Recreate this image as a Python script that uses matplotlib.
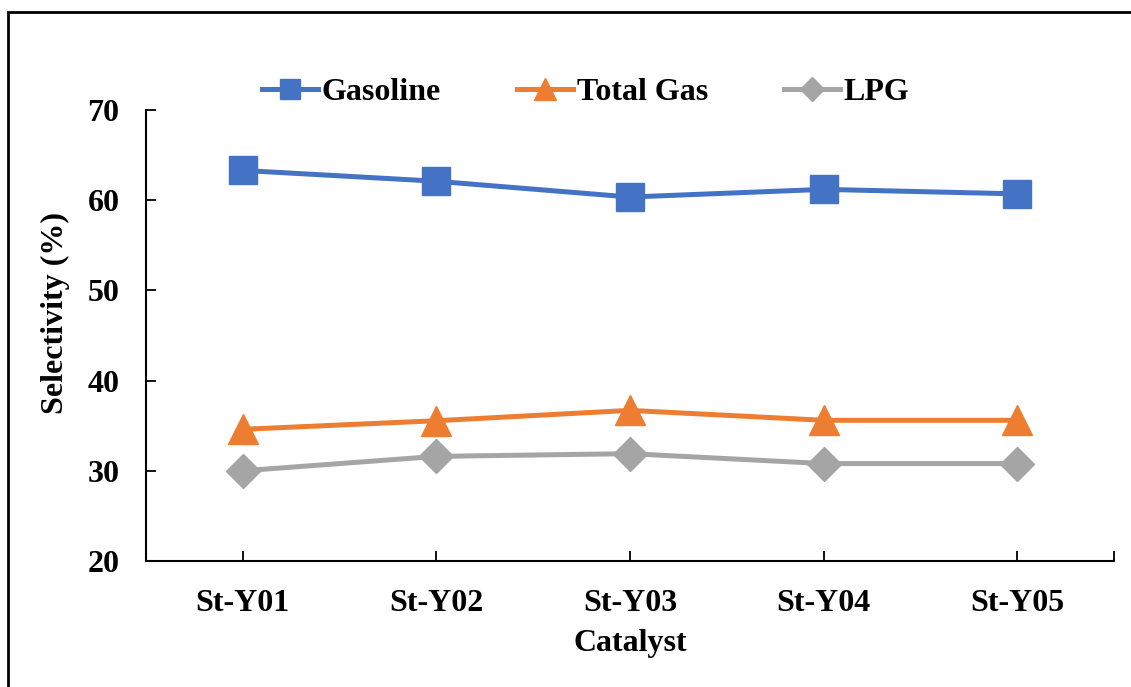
import matplotlib
matplotlib.use("Agg")
import matplotlib.pyplot as plt
from matplotlib.patches import Rectangle

# data
catalysts = ["St-Y01", "St-Y02", "St-Y03", "St-Y04", "St-Y05"]
gasoline = [63.3, 62.1, 60.35, 61.2, 60.7]
total_gas = [34.6, 35.55, 36.7, 35.6, 35.6]
lpg = [30.0, 31.6, 31.9, 30.8, 30.8]

plt.rcParams['font.family'] = ['Liberation Serif', 'DejaVu Serif']
plt.rcParams['font.weight'] = 'bold'
FS = 23

fig = plt.figure(figsize=(11.31, 6.87), dpi=100)
ax = fig.add_axes([0.129, 0.1834, 0.856, 0.6565])

x = list(range(len(catalysts)))
ax.plot(x, gasoline, color='#4472C4', lw=3.6, marker='s', ms=20, label='Gasoline')
ax.plot(x, total_gas, color='#ED7D31', lw=3.6, marker='^', ms=22, label='Total Gas')
ax.plot(x, lpg, color='#A5A5A5', lw=3.6, marker='D', ms=17, label='LPG')

ax.set_xlim(-0.5, 4.5)
ax.set_ylim(20, 70)
ax.set_yticks(range(20, 71, 10))
ax.set_xticks(x)
ax.set_xticklabels(catalysts)
ax.set_xticks([4.5], minor=True)

for s in ['top', 'right']:
    ax.spines[s].set_visible(False)
ax.spines['left'].set_linewidth(1.5)
ax.spines['bottom'].set_linewidth(1.5)

ax.tick_params(axis='both', which='both', direction='in', length=7, width=1.3, labelsize=FS)
ax.tick_params(axis='y', pad=19)
ax.tick_params(axis='x', pad=20)
for lbl in ax.get_xticklabels() + ax.get_yticklabels():
    lbl.set_fontweight('bold')

fig.text(0.049, 0.545, 'Selectivity (%)', rotation=90, ha='center', va='center',
         fontsize=FS, fontweight='bold')
fig.text(0.557, 0.064, 'Catalyst', ha='center', va='center', fontsize=FS, fontweight='bold')

leg = fig.legend(loc='center', bbox_to_anchor=(0.518, 0.866), ncol=3, frameon=False,
                 handlelength=1.75, handletextpad=0.1, columnspacing=2.4, markerscale=0.72,
                 prop={'weight': 'bold', 'size': FS})

# border around the chart area
fig.patches.append(Rectangle((8 / 1131, -0.1), 1.2, 1.1 - 12 / 687,
                             transform=fig.transFigure, fill=False, edgecolor='black',
                             lw=2, figure=fig))

fig.savefig('out.png', dpi=100)
